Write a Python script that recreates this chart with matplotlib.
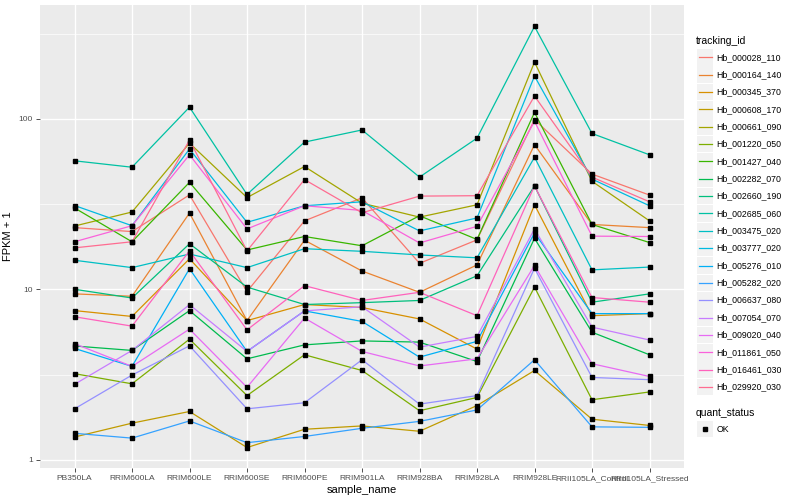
# Expression profiles (FPKM + 1) of 20 transcripts across rubber tree samples

import numpy as np
import matplotlib
matplotlib.use("Agg")
import matplotlib.pyplot as plt
from matplotlib.lines import Line2D
from matplotlib.patches import Rectangle

plt.rcParams['font.family'] = ['Liberation Sans', 'DejaVu Sans']

samples = ["PB350LA", "RRIM600LA", "RRIM600LE", "RRIM600SE", "RRIM600PE",
           "RRIM901LA", "RRIM928BA", "RRIM928LA", "RRIM928LE",
           "RRII105LA_Control", "RRII105LA_Stressed"]

tracking_ids = ["Hb_000028_110", "Hb_000164_140", "Hb_000345_370", "Hb_000608_170",
                "Hb_000661_090", "Hb_001220_050", "Hb_001427_040", "Hb_002282_070",
                "Hb_002660_190", "Hb_002685_060", "Hb_003475_020", "Hb_003777_020",
                "Hb_005276_010", "Hb_005282_020", "Hb_006637_080", "Hb_007054_070",
                "Hb_009020_040", "Hb_011861_050", "Hb_016461_030", "Hb_029920_030"]

# FPKM + 1, one list per tracking_id, in sample order
hb_000028_110 = [23, 21.8, 35.8, 9.7, 25.2, 34.4, 14.2, 19.5, 99, 47.4, 35.7]
hb_000164_140 = [9.4, 9.1, 28, 6.55, 19.4, 12.8, 9.6, 13.9, 70.5, 24, 23]
hb_000345_370 = [7.5, 6.93, 15.1, 6.55, 8.14, 7.82, 6.7, 4.46, 31.3, 7.0, 7.2]
hb_000608_170 = [1.36, 1.64, 1.92, 1.18, 1.51, 1.58, 1.47, 2.08, 3.34, 1.73, 1.59]
hb_000661_090 = [23.5, 28.4, 72, 34.5, 52.5, 32, 26.5, 31.3, 215, 43, 25.2]
hb_001220_050 = [3.2, 2.79, 5.1, 2.38, 4.13, 3.34, 1.94, 2.32, 10.3, 2.25, 2.5]
hb_001427_040 = [30, 19, 42.4, 17, 20.4, 18, 27, 19.6, 109, 24, 18.8]
hb_002282_070 = [4.65, 4.38, 7.5, 3.91, 4.72, 4.98, 4.9, 3.77, 19.9, 5.6, 4.13]
hb_002660_190 = [10, 8.89, 18.5, 10.3, 8.14, 8.35, 8.6, 12.0, 40.4, 8.4, 9.4]
hb_002685_060 = [56.7, 52, 117, 36, 73, 86, 45.5, 77, 348, 82, 61.5]
hb_003475_020 = [14.8, 13.4, 16.1, 13.4, 17.3, 16.7, 15.9, 15.3, 59.5, 13.0, 13.5]
hb_003777_020 = [31, 23.6, 66.5, 24.7, 30.9, 32.6, 22, 26.2, 178, 44.3, 30.9]
hb_005276_010 = [4.5, 3.53, 13.2, 4.32, 7.47, 6.48, 4.0, 4.95, 21.4, 7.2, 7.2]
hb_005282_020 = [1.43, 1.34, 1.69, 1.26, 1.37, 1.53, 1.68, 1.96, 3.86, 1.56, 1.55]
hb_006637_080 = [1.99, 3.14, 4.66, 1.99, 2.16, 3.86, 2.12, 2.38, 13.3, 3.04, 2.95]
hb_007054_070 = [2.77, 4.38, 8.13, 4.32, 7.47, 7.9, 4.58, 5.29, 22.6, 6.0, 5.04]
hb_009020_040 = [4.8, 3.53, 5.84, 2.66, 6.78, 4.32, 3.55, 3.91, 13.8, 3.66, 3.08]
hb_011861_050 = [19, 23.6, 61.5, 22.6, 30.9, 29, 18.7, 23.4, 96.6, 20.5, 20.4]
hb_016461_030 = [6.9, 6.08, 16.8, 5.78, 10.5, 8.6, 9.6, 7.0, 40.4, 8.95, 8.4]
hb_029920_030 = [17.5, 19, 75, 16.8, 44, 28.1, 35.2, 35.4, 136, 45.5, 32.6]

series = [hb_000028_110, hb_000164_140, hb_000345_370, hb_000608_170, hb_000661_090,
          hb_001220_050, hb_001427_040, hb_002282_070, hb_002660_190, hb_002685_060,
          hb_003475_020, hb_003777_020, hb_005276_010, hb_005282_020, hb_006637_080,
          hb_007054_070, hb_009020_040, hb_011861_050, hb_016461_030, hb_029920_030]

# ggplot2 default hue palette for 20 levels
colors = ["#F8766D", "#EA8331", "#D89000", "#C09B00", "#A3A500", "#7CAE00", "#39B600",
          "#00BB4E", "#00BF7D", "#00C1A3", "#00BFC4", "#00BAE0", "#00B0F6", "#35A2FF",
          "#9590FF", "#C77CFF", "#E76BF3", "#FA62DB", "#FF62BC", "#FF6C91"]

W, H = 800, 500
fig = plt.figure(figsize=(8, 5), dpi=100)
ax = fig.add_axes([40 / W, 1 - 468 / H, 644 / W, 463 / H])
ax.set_facecolor("#EBEBEB")

x = np.arange(len(samples))
for vals, col in zip(series, colors):
    ax.plot(x, vals, color=col, lw=0.9, zorder=3)
for vals in series:
    ax.plot(x, vals, ls="none", marker="s", ms=2.6, color="black", zorder=4)

ax.set_yscale("log")
ax.set_ylim(0.895, 465)
ax.set_xlim(-0.6, len(samples) - 0.4)

ax.set_yticks([1, 10, 100])
ax.set_yticklabels(["1", "10", "100"])
ax.set_yticks([10 ** 0.5, 10 ** 1.5, 10 ** 2.5], minor=True)
ax.set_xticks(x)
ax.set_xticklabels(samples)

ax.grid(which="major", color="white", lw=1.0)
ax.grid(which="minor", axis="y", color="white", lw=0.5)
ax.set_axisbelow(True)
for s in ax.spines.values():
    s.set_visible(False)
ax.tick_params(which="major", length=3, width=0.6, color="#333333",
               labelsize=6, labelcolor="#4D4D4D", pad=2)
ax.tick_params(which="minor", length=0)

ax.set_xlabel("sample_name", fontsize=8, labelpad=2)
ax.set_ylabel("FPKM + 1", fontsize=8, labelpad=4)

# legends drawn by hand, ggplot style
def fx(px):
    return px / W

def fy(py):
    return 1 - py / H

fig.text(fx(696), fy(41), "tracking_id", fontsize=7.5, va="center")
for i, (name, col) in enumerate(zip(tracking_ids, colors)):
    yc = 57.3 + i * 17.35
    fig.add_artist(Rectangle((fx(697), fy(yc + 8.3)), 15.5 / W, 16.6 / H,
                             transform=fig.transFigure, color="#F2F2F2", lw=0))
    fig.add_artist(Line2D([fx(698.5), fx(711.5)], [fy(yc), fy(yc)],
                          transform=fig.transFigure, color=col, lw=0.9))
    fig.text(fx(716.5), fy(yc), name, fontsize=6.3, va="center")

fig.text(fx(696), fy(412.5), "quant_status", fontsize=7.5, va="center")
fig.add_artist(Rectangle((fx(697), fy(437.3)), 15.5 / W, 16.6 / H,
                         transform=fig.transFigure, color="#F2F2F2", lw=0))
fig.add_artist(Line2D([fx(704.8)], [fy(429)], transform=fig.transFigure,
                      marker="s", ms=2.6, color="black", ls="none"))
fig.text(fx(716.5), fy(429), "OK", fontsize=6.3, va="center")

fig.savefig("out.png", dpi=100)
